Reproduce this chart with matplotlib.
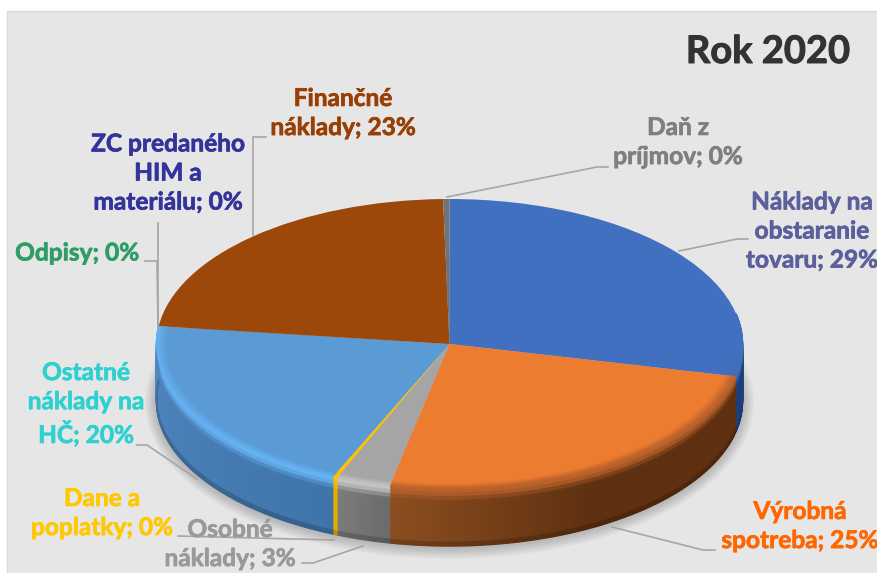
import numpy as np
import matplotlib
matplotlib.use("Agg")
import matplotlib.pyplot as plt
import matplotlib.patheffects as pe
from matplotlib.collections import PolyCollection
from matplotlib.colors import to_rgb
from matplotlib.patches import Rectangle, Ellipse

plt.rcParams['font.family'] = ['Lato', 'DejaVu Sans']

W, H = 878, 573
title = "Rok 2020"
categories = ["Náklady na obstaranie tovaru", "Výrobná spotreba", "Osobné náklady",
              "Dane a poplatky", "Ostatné náklady na HČ", "Odpisy",
              "ZC predaného HIM a materiálu", "Finančné náklady", "Daň z príjmov"]
values = [28.6, 24.7, 3.0, 0.25, 20.4, 0.02, 0.02, 22.7, 0.35]
top_colors = ["#4270c0", "#ec7c30", "#a5a5a5", "#ffc000", "#5b9bd5",
              "#4a8f5a", "#33339c", "#9c480b", "#6f7478"]
rim_colors = ["#3f6fb8", "#b9612a", "#c4c4c4", "#ffc000", "#66b2f2",
              "#4a8f5a", "#33339c", "#9c480b", "#6f7478"]
wall_from = ["#1d3f78", "#5e3010", "#6a6a6a", "#e0b000", "#3f74aa",
             "#3a6f48", "#2a2a80", "#6f3408", "#555555"]
wall_to = ["#1d3f78", "#8c4e20", "#7c7c7c", "#e0b000", "#5087bf",
           "#3a6f48", "#2a2a80", "#6f3408", "#555555"]

label_text = ["Náklady na\nobstaranie\ntovaru; 29%", "Výrobná\nspotreba; 25%", "Osobné\nnáklady; 3%",
              "Dane a\npoplatky; 0%", "Ostatné\nnáklady na\nHČ; 20%", "Odpisy; 0%",
              "ZC predaného\nHIM a\nmateriálu; 0%", "Finančné\nnáklady; 23%", "Daň z\npríjmov; 0%"]
label_colors = ["#5b5f9b", "#ff6600", "#999999", "#ffc800", "#2fd0d0",
                "#2e9e69", "#33339c", "#993e05", "#7f7f7f"]
label_x = [812, 800, 230, 102, 86, 77, 168, 343, 678]
label_y = [231, 526, 544, 513, 404, 253, 173, 113, 142]
leaders = [
    [(679, 251), (737, 239), (748, 239)],
    [(612, 527), (703, 550), (715, 550)],
    [(363, 546), (313, 563), (302, 563)],
    [(334, 540), (178, 536)],
    [(197, 479), (147, 445), (137, 445)],
    [(158, 327), (157, 261), (145, 261)],
    [(158, 327), (158, 223)],
    [(253, 235), (253, 137), (266, 137)],
    [(447, 197), (597, 167), (608, 167)],
]

cx, cy, rx, ry, depth_px = 449.5, 344, 293, 145, 57

fig = plt.figure(figsize=(W / 100, H / 100), dpi=100, facecolor="white")

# background panel
bg = fig.add_axes([0, 0, 1, 1])
bg.set_xlim(0, W); bg.set_ylim(H, 0); bg.axis("off")
bg.add_patch(Rectangle((7, 11), W, H, fc="#e6e6e6", ec="#dadada", lw=1))

# pie axes: one data unit = rx px horizontally, ry px vertically
ax = fig.add_axes([0, 0, 1, 1], facecolor="none")
depth = depth_px / ry

def to_rgb_arr(c):
    return np.array(to_rgb(c))

# soft shadow beneath
for k in range(10):
    grow = 0.04 - k * 0.004
    ax.add_patch(Ellipse((0.0, -depth - 0.01), 2 * (1 + grow), 2 * (1 + grow * 2),
                         fc="#000000", alpha=0.018, ec="none", zorder=1))

# side wall
fracs = np.array(values) / np.sum(values)
edges = np.concatenate([[0], np.cumsum(fracs)]) * 360
wall_end = edges[5]  # the wall stops where the back half of the pie begins
polys, cols = [], []
bands = np.linspace(0, 1, 16)
for i in range(5):
    a0, a1 = edges[i], edges[i + 1]
    a0 = max(a0, 78)
    n = max(2, int((a1 - a0) * 1.5))
    th = np.linspace(a0, a1, n)
    cw0, cw1, crim = map(to_rgb_arr, (wall_from[i], wall_to[i], rim_colors[i]))
    for j in range(n - 1):
        t1, t2 = np.radians(th[j]), np.radians(th[j + 1])
        frac = (j + .5) / (n - 1)
        f = np.clip((frac - 0.55) / 0.45, 0, 1)
        if i != 1:
            f = frac
        wall = cw0 + (cw1 - cw0) * f
        for b in range(len(bands) - 1):
            d0, d1 = bands[b] * depth, bands[b + 1] * depth
            polys.append([(np.sin(t1), np.cos(t1) - d0), (np.sin(t2), np.cos(t2) - d0),
                          (np.sin(t2), np.cos(t2) - d1), (np.sin(t1), np.cos(t1) - d1)])
            s = np.clip(bands[b] / 0.22, 0, 1)
            s = s * s * (3 - 2 * s)
            c = crim + (wall - crim) * s
            if bands[b] > 0.9:
                c = c * 0.82
            cols.append(c)
ax.add_collection(PolyCollection(polys, facecolors=cols, edgecolors="face", linewidths=1.0, zorder=2))

# top surface
wedges, _ = ax.pie(values, colors=top_colors, startangle=90, counterclock=False, radius=1,
                   wedgeprops=dict(linewidth=0))
for w in wedges:
    w.set_zorder(3)

# soft bevel along the front rim of the top surface
polys, cols = [], []
radii = np.linspace(0.965, 1.0, 7)
for i in range(5):
    a0, a1 = edges[i], edges[i + 1]
    a0 = max(a0, 96)
    if a1 <= a0:
        continue
    n = max(2, int((a1 - a0) * 1.5))
    th = np.radians(np.linspace(a0, a1, n))
    ct, crim = map(to_rgb_arr, (top_colors[i], rim_colors[i]))
    for j in range(n - 1):
        for r in range(len(radii) - 1):
            q0, q1 = radii[r], radii[r + 1]
            polys.append([(q0 * np.sin(th[j]), q0 * np.cos(th[j])), (q0 * np.sin(th[j + 1]), q0 * np.cos(th[j + 1])),
                          (q1 * np.sin(th[j + 1]), q1 * np.cos(th[j + 1])), (q1 * np.sin(th[j]), q1 * np.cos(th[j]))])
            cols.append(ct + (crim - ct) * ((r + .5) / (len(radii) - 1)))
ax.add_collection(PolyCollection(polys, facecolors=cols, edgecolors="face", linewidths=0.5, zorder=4))

ax.set_aspect("auto")
ax.set_xlim(-cx / rx, (W - cx) / rx)
ax.set_ylim(-(H - cy) / ry, cy / ry)
ax.axis("off")

# overlay with labels and leader lines, in image pixels
ov = fig.add_axes([0, 0, 1, 1], facecolor="none")
ov.set_xlim(0, W); ov.set_ylim(H, 0); ov.axis("off")
for pts in leaders:
    xs, ys = zip(*pts)
    ov.plot(xs, ys, color="#a6a6a6", lw=1.2, solid_joinstyle="miter")
for txt, c, x, y in zip(label_text, label_colors, label_x, label_y):
    ov.text(x, y, txt, color=c, ha="center", va="center", fontsize=17.6, fontweight="bold",
            linespacing=1.32, multialignment="center", clip_on=False,
            path_effects=[pe.withStroke(linewidth=0.5, foreground=c)])
ov.text(768, 52, title, color="#333333", ha="center", va="center", fontsize=27.4, fontweight="bold",
        path_effects=[pe.withStroke(linewidth=0.7, foreground="#333333")])

fig.savefig("out.png", dpi=100, facecolor="white")
